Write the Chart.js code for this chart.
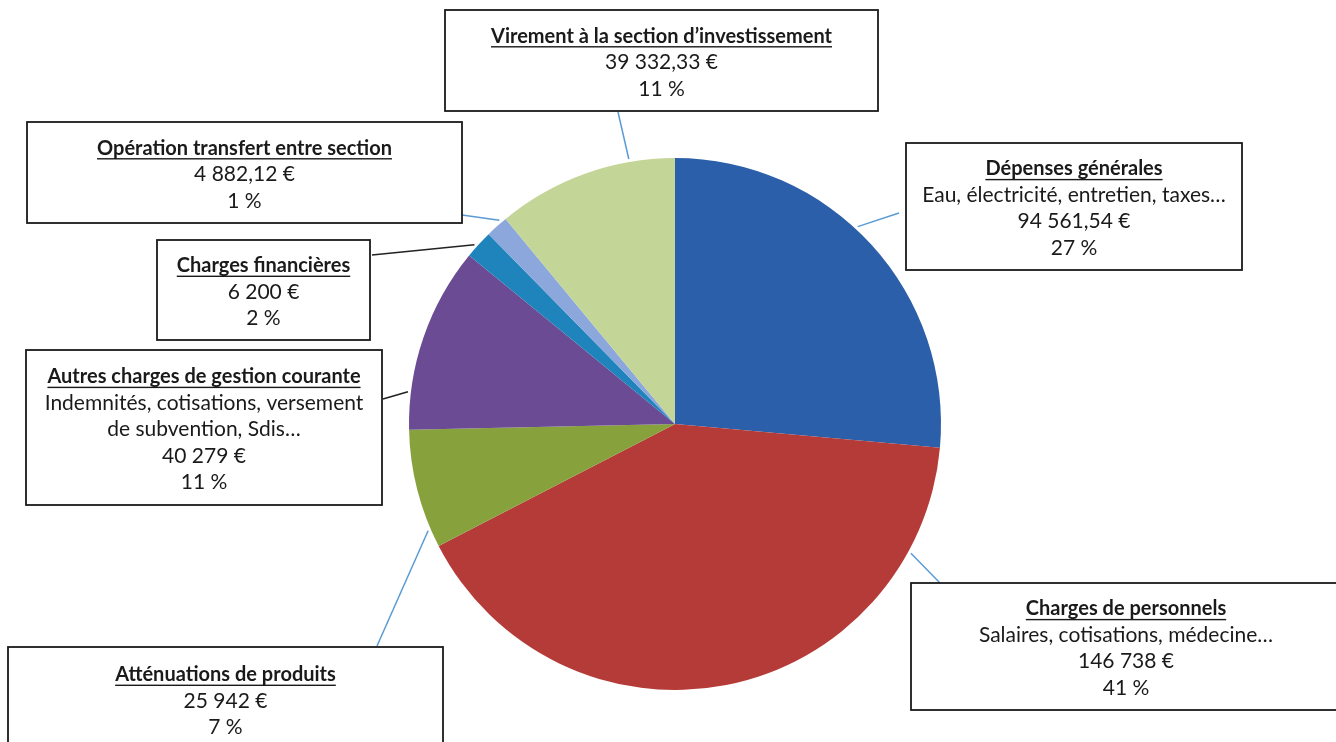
<!DOCTYPE html>
<html>
<head>
<meta charset="utf-8">
<script src="https://cdn.jsdelivr.net/npm/chart.js@4.4.0/dist/chart.umd.min.js"></script>
<style>
  body { margin: 0; background: #ffffff; }
  canvas { display: block; }
</style>
</head>
<body>
<canvas id="chart1" width="1336" height="742"></canvas>
<script>
//Data, slices clockwise from 12 o'clock
var categories = ['Dépenses générales', 'Charges de personnels', 'Atténuations de produits',
    'Autres charges de gestion courante', 'Charges financières', 'Opération transfert entre section',
    'Virement à la section d\u2019investissement'];
var details = [
    ['Eau, électricité, entretien, taxes\u2026'],
    ['Salaires, cotisations, médecine\u2026'],
    [],
    ['Indemnités, cotisations, versement', 'de subvention, Sdis\u2026'],
    [],
    [],
    []
];
var amounts = [94561.54, 146738, 25942, 40279, 6200, 4882.12, 39332.33];
var percentLabels = ['27 %', '41 %', '7 %', '11 %', '2 %', '1 %', '11 %'];
var sliceColors = ['#2c5fa9', '#b53b38', '#87a13c', '#6b4b93', '#1f84bb', '#8ca7db', '#c3d597'];

//Label boxes: [x, y, width, height]
var boxes = [
    [906, 143, 336, 127],
    [911, 583, 430, 127],
    [8, 647, 435, 104],
    [26, 350, 356, 155],
    [157, 240, 213, 100],
    [27, 122, 435, 101],
    [445, 10, 433, 101]
];
//Leader lines: point on the box, position inside the slice (0..1), colour
var leaderAnchors = [[899, 213], [940, 583], [377, 646], [383, 399], [372, 255], [462, 215], [618, 112]];
var leaderFractions = [0.45, 0.16, 0.15, 0.2, 0.4, 0.75, 0.75];
var leaderColors = ['#5b9bd5', '#5b9bd5', '#5b9bd5', '#222222', '#222222', '#5b9bd5', '#5b9bd5'];

//Formats 94561.54 as "94 561,54 €"
function formatEuro(value) {
    var parts = value.toFixed(2).split('.');
    var intPart = parts[0].replace(/\B(?=(\d{3})+(?!\d))/g, ' ');
    var text = intPart;
    if (parts[1] != '00') {
        text += ',' + parts[1];
    }
    return text + ' \u20ac';
}

var fontFamily = 'Lato, "Open Sans", sans-serif';

var labelBoxes = {
    id: 'labelBoxes',
    afterDraw: function (chart) {
        var ctx = chart.ctx;
        var arcs = chart.getDatasetMeta(0).data;
        ctx.save();
        for (i = 0; i < arcs.length; i++) {
            var arc = arcs[i];
            //leader line
            var a = arc.startAngle + (arc.endAngle - arc.startAngle) * leaderFractions[i];
            var r = arc.outerRadius + 3;
            ctx.beginPath();
            ctx.strokeStyle = leaderColors[i];
            ctx.lineWidth = 1.5;
            ctx.moveTo(arc.x + Math.cos(a) * r, arc.y + Math.sin(a) * r);
            ctx.lineTo(leaderAnchors[i][0], leaderAnchors[i][1]);
            ctx.stroke();

            //box
            var b = boxes[i];
            ctx.fillStyle = '#ffffff';
            ctx.fillRect(b[0], b[1], b[2], b[3]);
            ctx.strokeStyle = '#1a1a1a';
            ctx.lineWidth = 1.8;
            ctx.strokeRect(b[0], b[1], b[2], b[3]);

            //texts
            var lines = [categories[i]].concat(details[i], [formatEuro(amounts[i]), percentLabels[i]]);
            var lineHeight = 26.4;
            var cx = b[0] + b[2] / 2;
            var top = b[1] + b[3] / 2 - lineHeight * lines.length / 2 + 2;
            ctx.fillStyle = '#1a1a1a';
            ctx.textAlign = 'center';
            ctx.textBaseline = 'middle';
            for (j = 0; j < lines.length; j++) {
                var y = top + lineHeight * (j + 0.5);
                if (j == 0) {
                    ctx.font = 'bold 20px ' + fontFamily;
                    ctx.fillText(lines[j], cx, y);
                    var w = ctx.measureText(lines[j]).width;
                    ctx.fillRect(cx - w / 2, y + 10, w, 1.4);
                } else {
                    ctx.font = '21px ' + fontFamily;
                    ctx.fillText(lines[j], cx, y);
                }
            }
        }
        ctx.restore();
    }
};

const CHART1 = document.getElementById('chart1');
let budgetPieChart = new Chart(CHART1, {
    type: 'pie',
    data: {
        labels: categories,
        datasets: [
            {
                data: amounts,
                backgroundColor: sliceColors,
                borderWidth: 0
            }
        ]
    },
    options: {
        responsive: false,
        animation: false,
        devicePixelRatio: 1,
        layout: {
            padding: { top: 158, bottom: 52, left: 409, right: 395 }
        },
        plugins: {
            legend: { display: false },
            tooltip: { enabled: false }
        }
    },
    plugins: [labelBoxes]
});
</script>
</body>
</html>
